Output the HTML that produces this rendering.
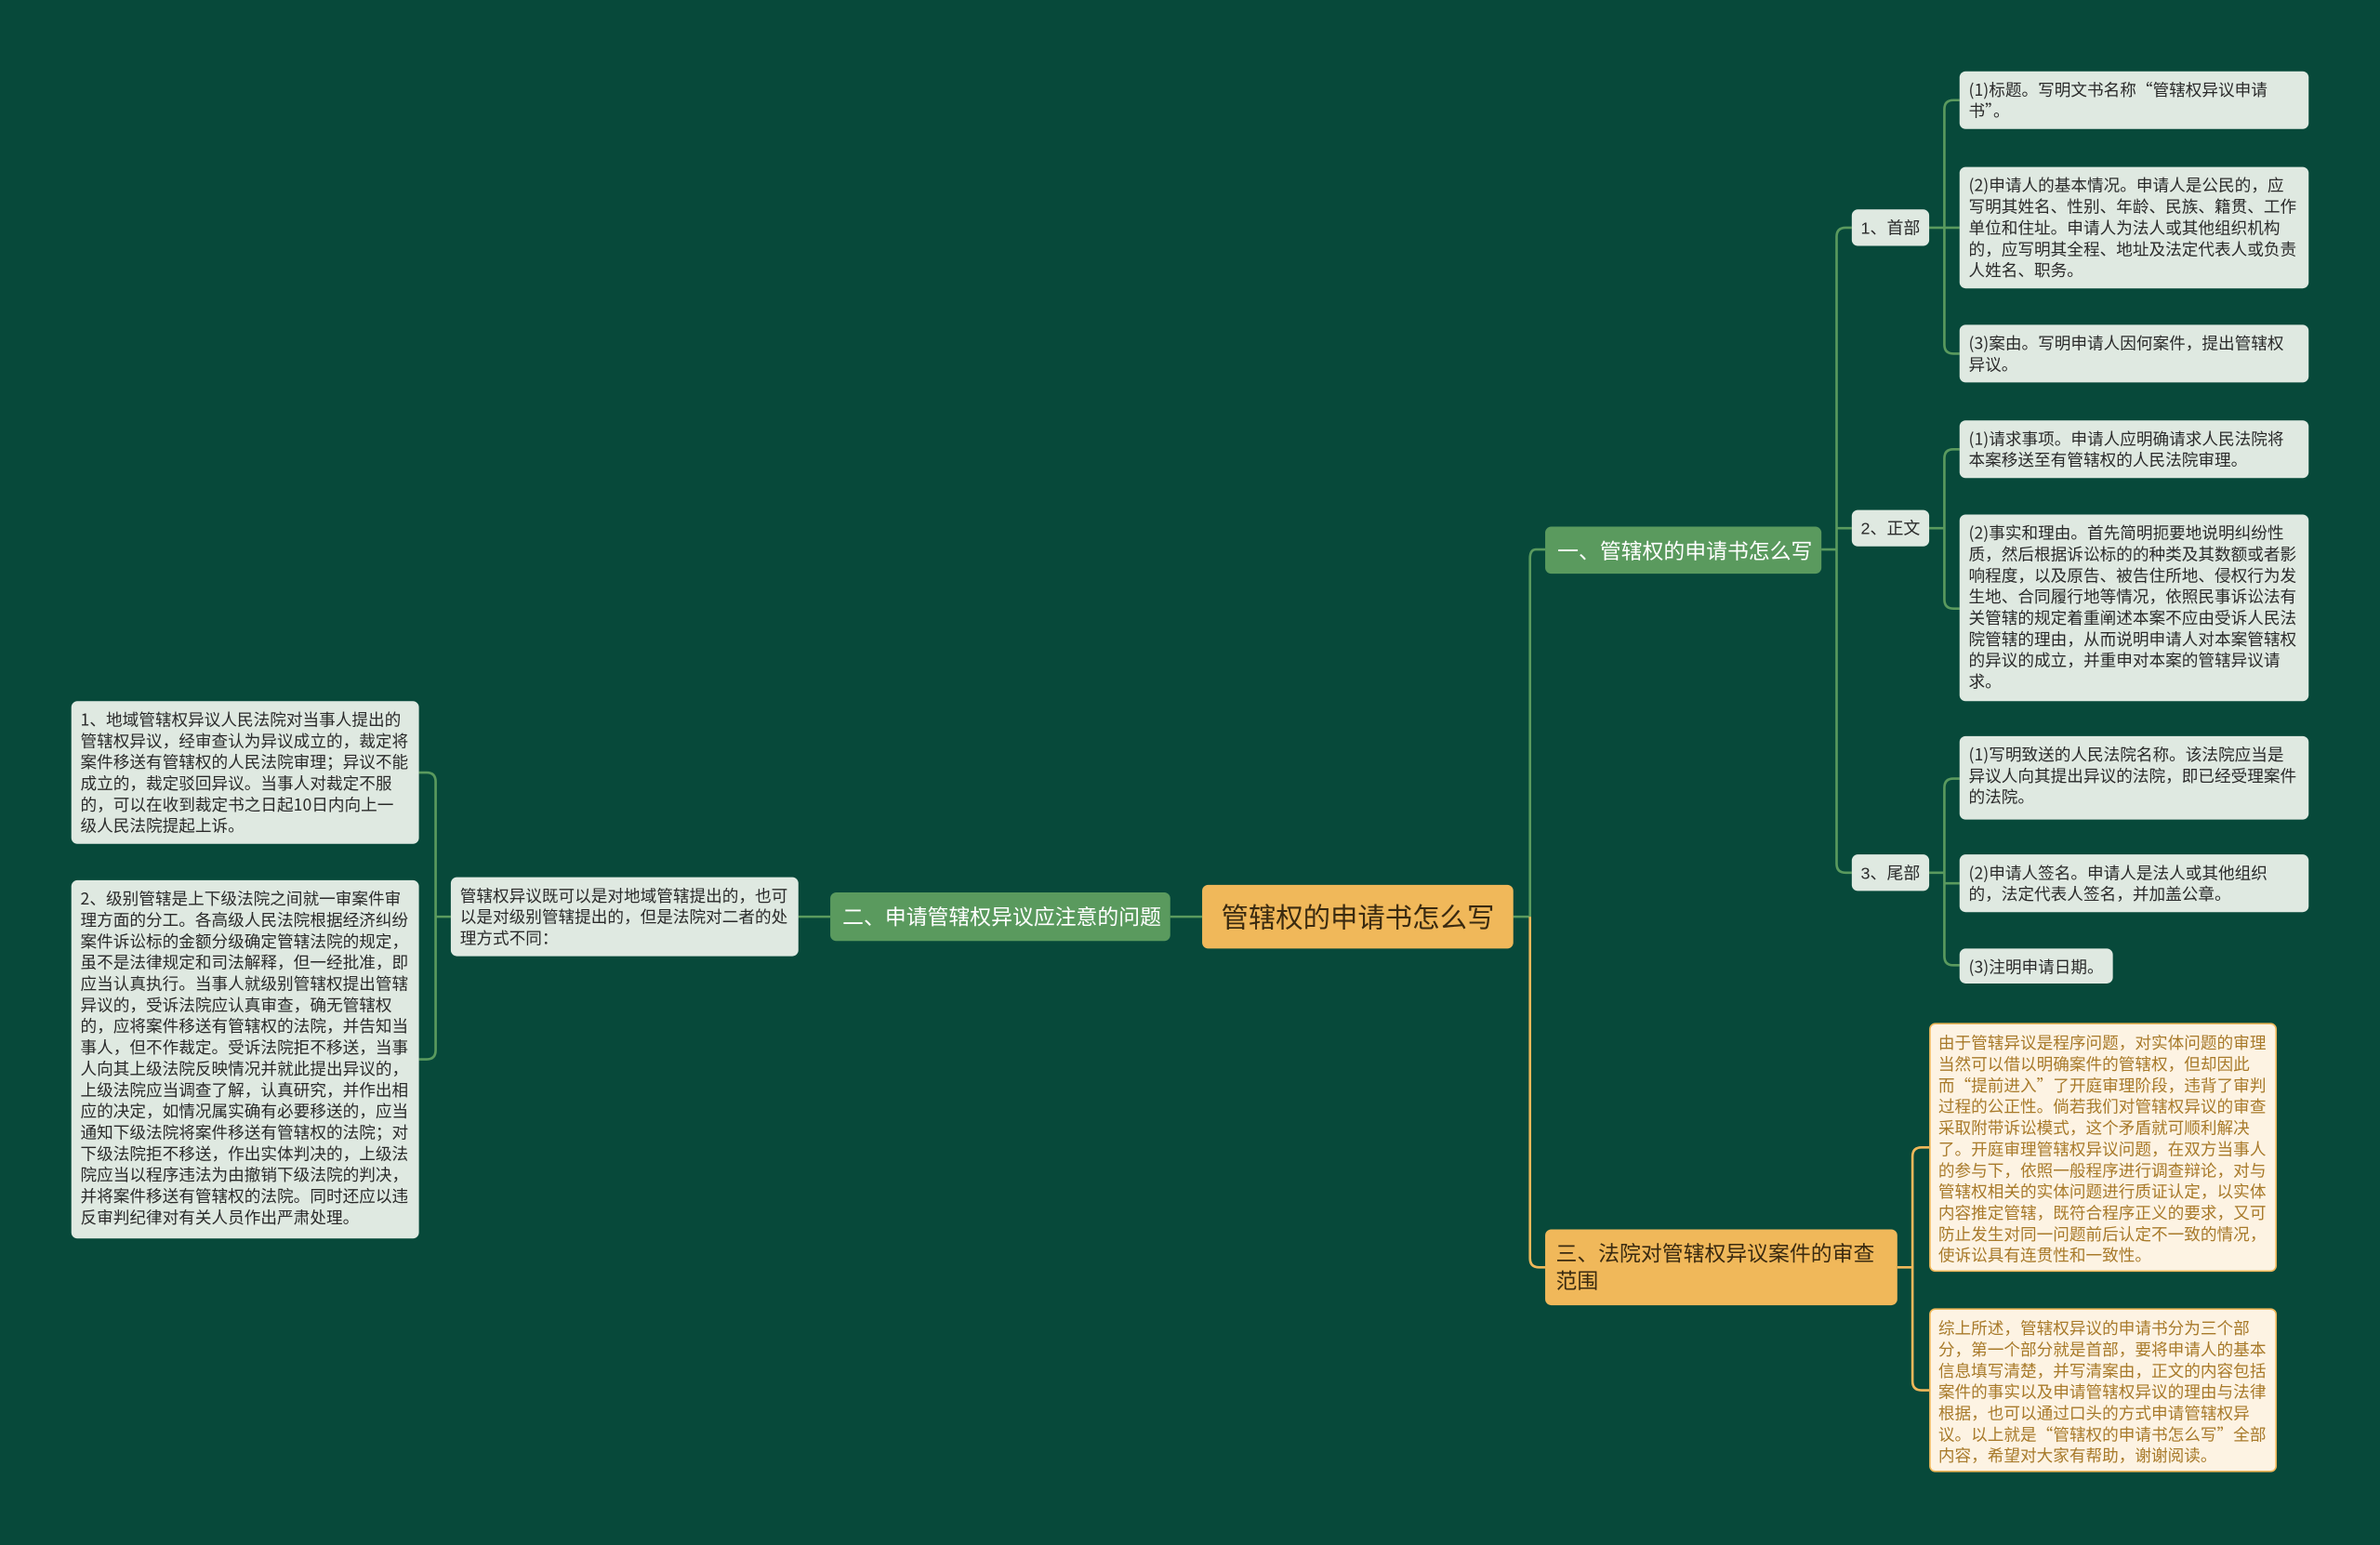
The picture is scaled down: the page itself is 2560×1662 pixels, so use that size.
<!DOCTYPE html>
<html><head><meta charset="utf-8"><style>
html,body{margin:0;padding:0;}
body{width:2560px;height:1662px;background:#07493a;overflow:hidden;position:relative;font-family:"Liberation Sans","Noto Sans CJK SC",sans-serif;}
#w{position:absolute;left:0;top:0;width:1568px;height:1018px;transform:scale(1.63265);transform-origin:0 0;}
.n{position:absolute;box-sizing:border-box;border-radius:4px;}
.leaf{background:#dfe9e1;color:#2a2a2a;font-size:10.8px;line-height:14px;padding:5px 6px;font-family:"Noto Sans CJK SC","Liberation Sans",sans-serif;}
.org{background:#fdf3e3;color:#a87a2a;font-size:10.8px;line-height:14px;padding:5px 5px;border:1px solid #f0b85a;font-family:"Noto Sans CJK SC","Liberation Sans",sans-serif;}
.sub{background:#dfe9e1;color:#2a2a2a;font-size:11px;display:flex;align-items:center;justify-content:center;}
.grn{background:#5a9a5e;color:#fff;font-size:14px;display:flex;align-items:center;padding-left:8px;}
svg{position:absolute;left:0;top:0;}
</style></head><body><div id="w">
<svg width="1568" height="1018" fill="none" stroke-width="1.6">
<g stroke="#5a9a5e">
<path d="M997 604 H1008"/>
<path d="M1018 362 H1012 Q1008 362 1008 368 V604"/>
<path d="M1200 362 H1210"/>
<path d="M1220 150 H1216 Q1210 150 1210 156 V569 Q1210 575 1216 575 H1220"/>
<path d="M1220 348 H1210"/>
<path d="M1271 150 H1281"/>
<path d="M1291 66 H1287 Q1281 66 1281 72 V227 Q1281 233 1287 233 H1291"/>
<path d="M1281 150 H1291"/>
<path d="M1271 348 H1281"/>
<path d="M1291 296 H1287 Q1281 296 1281 302 V395 Q1281 401 1287 401 H1291"/>
<path d="M1271 575 H1281"/>
<path d="M1291 513 H1287 Q1281 513 1281 519 V630 Q1281 636 1287 636 H1291"/>
<path d="M1281 582 H1291"/>
<path d="M792 604 H771"/>
<path d="M547 604 H526"/>
<path d="M297 604 H287"/>
<path d="M276 509 H281 Q287 509 287 515 V692 Q287 698 281 698 H276"/>
</g>
<g stroke="#f0b85a">
<path d="M1008 604 V829 Q1008 835 1014 835 H1018"/>
<path d="M1250 835 H1260"/>
<path d="M1271 756 H1266 Q1260 756 1260 762 V910 Q1260 916 1266 916 H1271"/>
</g>
</svg>
<div class="n" style="left:792px;top:583px;width:205px;height:42px;background:#f0b85a;color:#3a2a10;font-size:18px;display:flex;align-items:center;justify-content:center;">管辖权的申请书怎么写</div>
<div class="n grn" style="left:1018px;top:347px;width:182px;height:31px;">一、管辖权的申请书怎么写</div>
<div class="n grn" style="left:547px;top:588px;width:224px;height:32px;">二、申请管辖权异议应注意的问题</div>
<div class="n" style="left:1018px;top:810px;width:232px;height:50px;background:#f0b85a;color:#3a2a10;font-size:14px;line-height:18px;padding:7px 7px;">三、法院对管辖权异议案件的审查范围</div>
<div class="n sub" style="left:1220px;top:138px;width:51px;height:24px;">1、首部</div>
<div class="n sub" style="left:1220px;top:336px;width:51px;height:24px;">2、正文</div>
<div class="n sub" style="left:1220px;top:563px;width:51px;height:24px;">3、尾部</div>
<div class="n leaf" style="left:1291px;top:47px;width:230px;height:38px;">(1)标题。写明文书名称“管辖权异议申请书”。</div>
<div class="n leaf" style="left:1291px;top:110px;width:230px;height:80px;">(2)申请人的基本情况。申请人是公民的，应写明其姓名、性别、年龄、民族、籍贯、工作单位和住址。申请人为法人或其他组织机构的，应写明其全程、地址及法定代表人或负责人姓名、职务。</div>
<div class="n leaf" style="left:1291px;top:214px;width:230px;height:38px;">(3)案由。写明申请人因何案件，提出管辖权异议。</div>
<div class="n leaf" style="left:1291px;top:277px;width:230px;height:38px;">(1)请求事项。申请人应明确请求人民法院将本案移送至有管辖权的人民法院审理。</div>
<div class="n leaf" style="left:1291px;top:339px;width:230px;height:123px;">(2)事实和理由。首先简明扼要地说明纠纷性质，然后根据诉讼标的的种类及其数额或者影响程度，以及原告、被告住所地、侵权行为发生地、合同履行地等情况，依照民事诉讼法有关管辖的规定着重阐述本案不应由受诉人民法院管辖的理由，从而说明申请人对本案管辖权的异议的成立，并重申对本案的管辖异议请求。</div>
<div class="n leaf" style="left:1291px;top:485px;width:230px;height:55px;">(1)写明致送的人民法院名称。该法院应当是异议人向其提出异议的法院，即已经受理案件的法院。</div>
<div class="n leaf" style="left:1291px;top:563px;width:230px;height:38px;">(2)申请人签名。申请人是法人或其他组织的，法定代表人签名，并加盖公章。</div>
<div class="n leaf" style="left:1291px;top:625px;width:101px;height:23px;">(3)注明申请日期。</div>
<div class="n org" style="left:1271px;top:674px;width:229px;height:164px;">由于管辖异议是程序问题，对实体问题的审理当然可以借以明确案件的管辖权，但却因此而“提前进入”了开庭审理阶段，违背了审判过程的公正性。倘若我们对管辖权异议的审查采取附带诉讼模式，这个矛盾就可顺利解决了。开庭审理管辖权异议问题，在双方当事人的参与下，依照一般程序进行调查辩论，对与管辖权相关的实体问题进行质证认定，以实体内容推定管辖，既符合程序正义的要求，又可防止发生对同一问题前后认定不一致的情况，使诉讼具有连贯性和一致性。</div>
<div class="n org" style="left:1271px;top:862px;width:229px;height:108px;">综上所述，管辖权异议的申请书分为三个部分，第一个部分就是首部，要将申请人的基本信息填写清楚，并写清案由，正文的内容包括案件的事实以及申请管辖权异议的理由与法律根据，也可以通过口头的方式申请管辖权异议。以上就是“管辖权的申请书怎么写”全部内容，希望对大家有帮助，谢谢阅读。</div>
<div class="n leaf" style="left:297px;top:578px;width:229px;height:52px;">管辖权异议既可以是对地域管辖提出的，也可以是对级别管辖提出的，但是法院对二者的处理方式不同：</div>
<div class="n leaf" style="left:47px;top:462px;width:229px;height:94px;">1、地域管辖权异议人民法院对当事人提出的管辖权异议，经审查认为异议成立的，裁定将案件移送有管辖权的人民法院审理；异议不能成立的，裁定驳回异议。当事人对裁定不服的，可以在收到裁定书之日起10日内向上一级人民法院提起上诉。</div>
<div class="n leaf" style="left:47px;top:580px;width:229px;height:236px;">2、级别管辖是上下级法院之间就一审案件审理方面的分工。各高级人民法院根据经济纠纷案件诉讼标的金额分级确定管辖法院的规定，虽不是法律规定和司法解释，但一经批准，即应当认真执行。当事人就级别管辖权提出管辖异议的，受诉法院应认真审查，确无管辖权的，应将案件移送有管辖权的法院，并告知当事人，但不作裁定。受诉法院拒不移送，当事人向其上级法院反映情况并就此提出异议的，上级法院应当调查了解，认真研究，并作出相应的决定，如情况属实确有必要移送的，应当通知下级法院将案件移送有管辖权的法院；对下级法院拒不移送，作出实体判决的，上级法院应当以程序违法为由撤销下级法院的判决，并将案件移送有管辖权的法院。同时还应以违反审判纪律对有关人员作出严肃处理。</div>
</div></body></html>
